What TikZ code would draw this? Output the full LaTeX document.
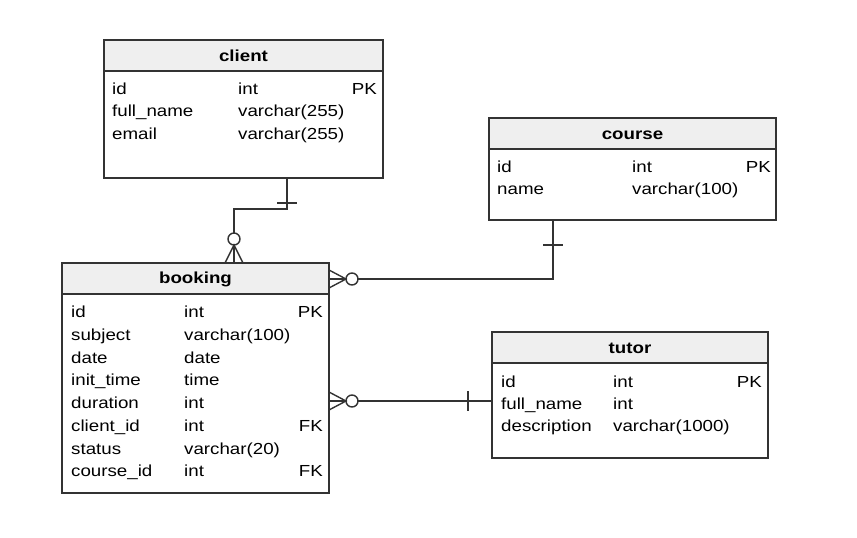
\documentclass[tikz,border=0pt]{standalone}
\usepackage{fontspec}
\setmainfont[FakeStretch=1.17]{Liberation Sans}
\usetikzlibrary{calc}
\definecolor{ln}{HTML}{333333}
\definecolor{hd}{HTML}{EFEFEF}
\begin{document}
\begin{tikzpicture}[x=1pt,y=-1pt,
  every node/.style={font=\fontsize{16}{19}\selectfont, text=black},
  tbl/.style={draw=ln, line width=1.4pt, fill=white, anchor=north west, inner sep=0pt, outer sep=0pt},
  hdr/.style={draw=ln, line width=1.4pt, fill=hd, anchor=north west, inner sep=0pt, outer sep=0pt, minimum height=31pt},
  ttl/.style={anchor=base, font=\fontsize{16}{19}\selectfont\bfseries, inner sep=0pt},
  fn/.style={anchor=base west, inner sep=0pt},
  fk/.style={anchor=base east, inner sep=0pt},
  lnk/.style={draw=ln, line width=1.4pt},
  ring/.style={circle, draw=ln, line width=1.4pt, fill=white, minimum size=12pt, inner sep=0pt, outer sep=0pt}]
\useasboundingbox (0,0) rectangle (857,538);

% client
\node[tbl, minimum width=279pt, minimum height=138pt] (client) at (104,40) {};
\node[hdr, minimum width=279pt] (client-h) at (104,40) {};
\node[ttl] (client-t) at (243.5,61) {client};
\foreach \n/\t [count=\i] in {id/int, full\_name/varchar(255), email/varchar(255)} {
  \node[fn] (client-n\i) at (112,{94.3+22.5*(\i-1)}) {\n};
  \node[fn] (client-y\i) at (238,{94.3+22.5*(\i-1)}) {\t};
}
\node[fk] (client-k1) at (377,94.3) {PK};

% course
\node[tbl, minimum width=287pt, minimum height=102pt] (course) at (489,118) {};
\node[hdr, minimum width=287pt] (course-h) at (489,118) {};
\node[ttl] (course-t) at (632.5,139) {course};
\foreach \n/\t [count=\i] in {id/int, name/varchar(100)} {
  \node[fn] (course-n\i) at (497,{172.5+21.7*(\i-1)}) {\n};
  \node[fn] (course-y\i) at (632,{172.5+21.7*(\i-1)}) {\t};
}
\node[fk] (course-k1) at (771,172.5) {PK};

% booking
\node[tbl, minimum width=267pt, minimum height=230pt] (booking) at (62,263) {};
\node[hdr, minimum width=267pt] (booking-h) at (62,263) {};
\node[ttl] (booking-t) at (195.5,283) {booking};
\foreach \n/\t [count=\i] in {id/int, subject/varchar(100), date/date, init\_time/time, duration/int, client\_id/int, status/varchar(20), course\_id/int} {
  \node[fn] (booking-n\i) at (71,{317.7+22.75*(\i-1)}) {\n};
  \node[fn] (booking-y\i) at (184,{317.7+22.75*(\i-1)}) {\t};
}
\node[fk] (booking-k1) at (323,317.7) {PK};
\node[fk] (booking-k6) at (323,{317.7+22.75*5}) {FK};
\node[fk] (booking-k8) at (323,{317.7+22.75*7}) {FK};

% tutor
\node[tbl, minimum width=276pt, minimum height=126pt] (tutor) at (492,332) {};
\node[hdr, minimum width=276pt] (tutor-h) at (492,332) {};
\node[ttl] (tutor-t) at (630,353) {tutor};
\foreach \n/\t [count=\i] in {id/int, full\_name/int, description/varchar(1000)} {
  \node[fn] (tutor-n\i) at (501,{387.5+22.2*(\i-1)}) {\n};
  \node[fn] (tutor-y\i) at (613,{387.5+22.2*(\i-1)}) {\t};
}
\node[fk] (tutor-k1) at (762,387.5) {PK};

% client -- booking
\coordinate (cb1) at (287,209);
\coordinate (cb2) at (234,209);
\node[ring] (cbo) at (234,239) {};
\draw[lnk] (client.south -| cb1) -- (cb1) -- (cb2) -- (cbo.north);
\draw[lnk] ($(client.south -| cb1)+(-10,25)$) -- +(20,0);
\draw[lnk] ($(booking.north -| cbo)+(-9,0)$) -- (cbo.south) -- ($(booking.north -| cbo)+(9,0)$);
\draw[lnk] (booking.north -| cbo) -- (cbo.south);

% course -- booking
\coordinate (cob1) at (553,279);
\node[ring] (coo) at (352,279) {};
\draw[lnk] (course.south -| cob1) -- (cob1) -- (coo.east);
\draw[lnk] ($(course.south -| cob1)+(-10,25)$) -- +(20,0);
\draw[lnk] ($(booking.east |- coo)+(0,-9)$) -- (coo.west) -- ($(booking.east |- coo)+(0,9)$);
\draw[lnk] (booking.east |- coo) -- (coo.west);

% tutor -- booking
\node[ring] (tuo) at (352,401) {};
\draw[lnk] (tuo.east) -- (tutor.west |- tuo);
\draw[lnk] ($(tutor.west |- tuo)+(-24,-10)$) -- +(0,20);
\draw[lnk] ($(booking.east |- tuo)+(0,-9)$) -- (tuo.west) -- ($(booking.east |- tuo)+(0,9)$);
\draw[lnk] (booking.east |- tuo) -- (tuo.west);
\end{tikzpicture}
\end{document}
